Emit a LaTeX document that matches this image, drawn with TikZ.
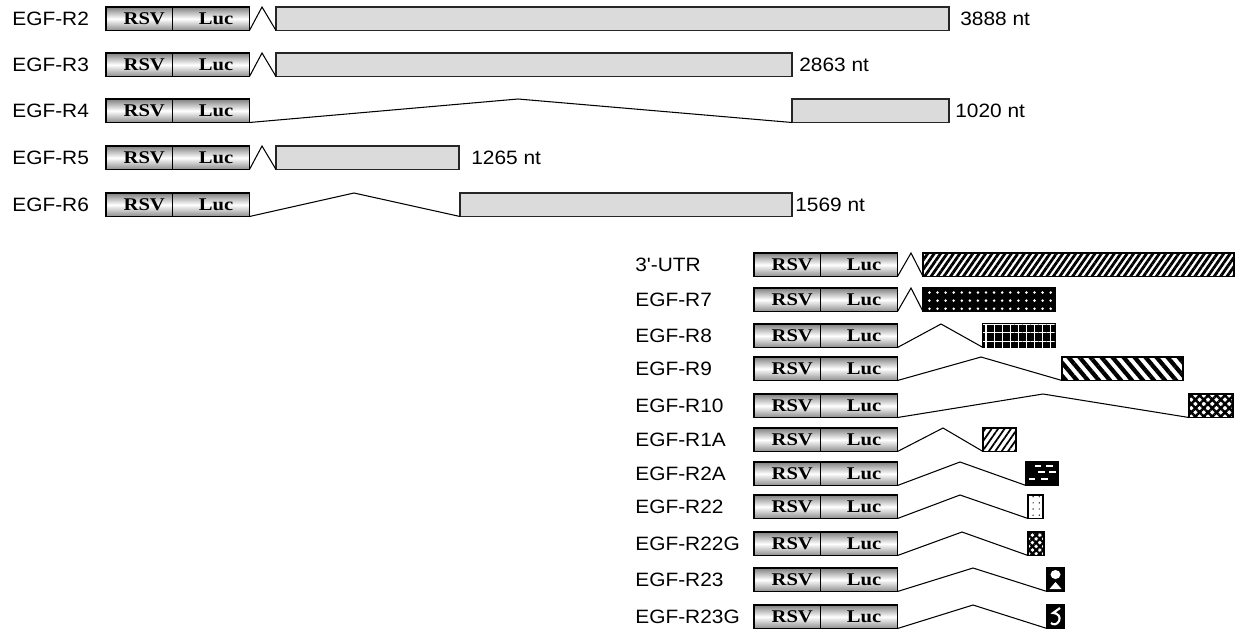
\documentclass[tikz,border=0pt]{standalone}
\usepackage{fontspec}
\usepackage{tikz}
\usetikzlibrary{positioning,patterns.meta}

\newfontfamily\lblfont{Liberation Sans}[FakeStretch=1.08]
\newfontfamily\boxfont{Liberation Serif}[FakeStretch=1.15]

\begin{document}
\begin{tikzpicture}[x=0.02cm, y=-0.02cm,
    lbl/.style={font=\lblfont\fontsize{11}{13}\selectfont, inner sep=0pt, anchor=west},
    part/.style={draw, line width=0.8pt, inner sep=0pt, outer sep=0pt,
        minimum height=0.47cm, top color=black!50, bottom color=black!45,
        middle color=white, font=\boxfont\bfseries\fontsize{10.2}{11}\selectfont},
    rsvpart/.style={part, minimum width=1.33cm},
    lucpart/.style={part, minimum width=1.54cm},
    exon/.style={draw, line width=0.6pt, inner sep=0pt, outer sep=0pt,
        minimum height=0.47cm},
    stipple/.style={draw=black!85, fill=black!14},
    intron/.style={line width=0.6pt},
    % fills of the short 3' exons
    utrhatch/.style={fill=white, postaction={pattern={Lines[angle=55, distance=3pt, line width=1.6pt]}, pattern color=black}},
    dotsblack/.style={fill=black, postaction={pattern={Dots[distance=4.6pt, radius=0.8pt]}, pattern color=white}},
    gridblack/.style={fill=black, postaction={pattern={Hatch[distance=4.6pt, line width=0.6pt]}, pattern color=white}},
    widestripes/.style={fill=white, postaction={pattern={Lines[angle=-50, distance=4.8pt, line width=2.4pt]}, pattern color=black}},
    weave/.style={fill=white, postaction={pattern={Hatch[angle=45, distance=3.4pt, line width=1.4pt]}, pattern color=black}},
    finehatch/.style={fill=white, postaction={pattern={Lines[angle=55, distance=3pt, line width=1pt]}, pattern color=black}},
    bricks/.style={fill=black},
    sparsedots/.style={fill=white, postaction={pattern={Dots[distance=3.5pt, radius=0.4pt]}, pattern color=black}},
    diamonds/.style={fill=white, postaction={pattern={Hatch[angle=45, distance=3pt, line width=1.3pt]}, pattern color=black}},
    darkbox/.style={fill=black}
]

\useasboundingbox (0,0) rectangle (1239,632);

% ==========================================
% UPPER SET: long 3' regions
% ==========================================

\foreach \n/\lab/\t/\px/\l/\r/\ntx/\nt in {
    2/EGF-R2/7/262/276/949/960/3888 nt,
    3/EGF-R3/53/262/276/792/799/2863 nt,
    4/EGF-R4/99/518/792/949/955/1020 nt,
    5/EGF-R5/146/262/276/459/471/1265 nt,
    6/EGF-R6/193/354/460/792/795/1569 nt} {
    \node[lbl] (name\n) at (12, \t+12) {\lab};
    \node[rsvpart, anchor=north west] (rsv\n) at (106, \t) {\hspace*{0.2cm}RSV};
    \node[lucpart, right=0pt of rsv\n] (luc\n) {\hspace*{0.2cm}Luc};
    \node[exon, stipple, anchor=north west, minimum width={(\r-\l)*0.02cm}] (ex\n) at (\l, \t) {};
    \coordinate (pk\n) at (\px, \t);
    \draw[intron] (luc\n.south east) -- (pk\n) -- (ex\n.south west);
    \node[lbl] (len\n) at (\ntx, \t+12) {\nt};
}

% ==========================================
% LOWER SET: 3'-UTR and short fragments
% ==========================================

\foreach \n/\lab/\t/\px/\l/\r/\pat in {
    utr/3'-UTR/253/911/923/1234/utrhatch,
    r7/EGF-R7/288/911/923/1055/dotsblack,
    r8/EGF-R8/324/941/983/1055/gridblack,
    r9/EGF-R9/357/981/1062/1183/widestripes,
    r10/EGF-R10/394/1043/1189/1233/weave,
    r1a/EGF-R1A/428/943/983/1016/finehatch,
    r2a/EGF-R2A/462/960/1026/1058/bricks,
    r22/EGF-R22/495/960/1028/1043/sparsedots,
    r22g/EGF-R22G/532/962/1028/1044/diamonds,
    r23/EGF-R23/568/973/1047/1064/darkbox,
    r23g/EGF-R23G/605/973/1047/1064/darkbox} {
    \node[lbl] (name\n) at (635, \t+12) {\lab};
    \node[rsvpart, anchor=north west] (rsv\n) at (754, \t) {\hspace*{0.2cm}RSV};
    \node[lucpart, right=0pt of rsv\n] (luc\n) {\hspace*{0.2cm}Luc};
    \node[exon, \pat, anchor=north west, minimum width={(\r-\l)*0.02cm}] (ex\n) at (\l, \t) {};
    \coordinate (pk\n) at (\px, \t);
    \draw[intron] (luc\n.south east) -- (pk\n) -- (ex\n.south west);
}

% white marks on the black boxes
\begin{scope}[shift={(exr2a.north west)}]
    \foreach \a/\b/\c in {9/15/4, 20/27/4, 12/19/10, 23/30/10, 3/9/17, 15/22/17}
        \draw[white, line width=1.3pt] (\a, \c) -- (\b, \c);
\end{scope}

\begin{scope}[shift={(exr23.north west)}]
    \fill[white] (8.5, 6.5) ellipse (0.1cm and 0.09cm);
    \fill[white] (2.5, 21) -- (8.5, 14) -- (14.5, 21) -- cycle;
\end{scope}
\draw[line width=0.6pt] (exr23.north west) rectangle (exr23.south east);

\begin{scope}[shift={(exr23g.north west)}]
    \draw[white, line width=1.2pt] (13, 3) -- (6, 8) .. controls (11, 8) and (14, 12) .. (12, 16)
        .. controls (10, 20) and (6, 20) .. (4, 18);
\end{scope}

\end{tikzpicture}
\end{document}
